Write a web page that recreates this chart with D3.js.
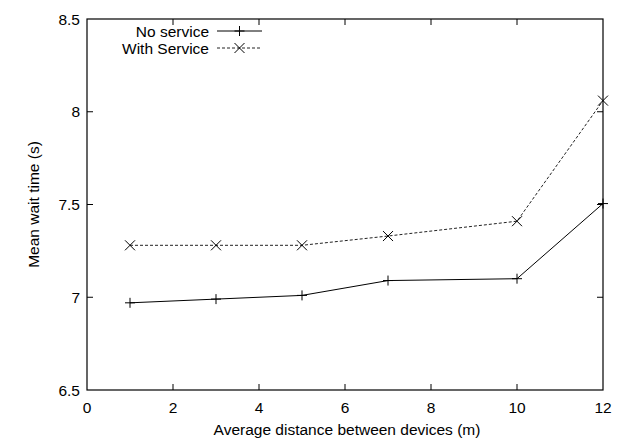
<!DOCTYPE html>
<html><head><meta charset="utf-8">
<script src="https://cdn.jsdelivr.net/npm/d3@7"></script>
<style>body{margin:0;background:#fff}svg{display:block}text{font-family:"Liberation Sans",Arial,sans-serif;fill:#000}</style>
</head><body>
<svg id="c" width="627" height="439"></svg>
<script>
const distances = [1, 3, 5, 7, 10, 12];
const noService = [6.97, 6.99, 7.01, 7.09, 7.10, 7.505];
const withService = [7.28, 7.28, 7.28, 7.33, 7.41, 8.06];
const xTicks = [0, 2, 4, 6, 8, 10, 12];
const yTicks = [6.5, 7, 7.5, 8, 8.5];
const seriesNames = ["No service", "With Service"];

const svg = d3.select("#c");
const L = 87, R = 603, T = 19, B = 390;
const x = d3.scaleLinear().domain([0, 12]).range([L, R]);
const y = d3.scaleLinear().domain([6.5, 8.5]).range([B, T]);
const fs = 15.5;

const g = svg.append("g").attr("stroke", "#000").attr("stroke-width", 1);
xTicks.forEach(t => {
  if (t === 0 || t === 12) return;
  g.append("line").attr("x1", x(t)).attr("x2", x(t)).attr("y1", B).attr("y2", B - 6);
  g.append("line").attr("x1", x(t)).attr("x2", x(t)).attr("y1", T).attr("y2", T + 6);
});
yTicks.forEach(t => {
  if (t === 6.5 || t === 8.5) return;
  g.append("line").attr("x1", L).attr("x2", L + 6).attr("y1", y(t)).attr("y2", y(t));
  g.append("line").attr("x1", R).attr("x2", R - 6).attr("y1", y(t)).attr("y2", y(t));
});
svg.append("rect").attr("x", L).attr("y", T).attr("width", R - L).attr("height", B - T)
  .attr("fill", "none").attr("stroke", "#000").attr("stroke-width", 1.2);

xTicks.forEach(t => svg.append("text").attr("x", x(t)).attr("y", B + 23)
  .attr("text-anchor", "middle").attr("font-size", fs).text(t));
yTicks.forEach(t => svg.append("text").attr("x", L - 7).attr("y", y(t) + 5.5)
  .attr("text-anchor", "end").attr("font-size", fs).text(t));

svg.append("text").attr("x", (L + R) / 2 + 2).attr("y", 435).attr("text-anchor", "middle")
  .attr("font-size", fs).text("Average distance between devices (m)");
svg.append("text").attr("transform", `translate(39,${(T + B) / 2}) rotate(-90)`)
  .attr("text-anchor", "middle").attr("font-size", fs).text("Mean wait time (s)");

const line = d3.line().x(d => x(d[0])).y(d => y(d[1]));
const d1 = distances.map((d, i) => [d, noService[i]]);
const d2 = distances.map((d, i) => [d, withService[i]]);

svg.append("path").attr("d", line(d1)).attr("fill", "none").attr("stroke", "#000").attr("stroke-width", 1);
svg.append("path").attr("d", line(d2)).attr("fill", "none").attr("stroke", "#222")
  .attr("stroke-width", 1).attr("stroke-dasharray", "3,2");

function plus(cx, cy, s) {
  svg.append("path").attr("d", `M${cx - s},${cy}H${cx + s}M${cx},${cy - s}V${cy + s}`)
    .attr("stroke", "#000").attr("stroke-width", 1).attr("fill", "none");
}
function cross(cx, cy, s) {
  svg.append("path").attr("d", `M${cx - s},${cy - s}L${cx + s},${cy + s}M${cx - s},${cy + s}L${cx + s},${cy - s}`)
    .attr("stroke", "#000").attr("stroke-width", 1).attr("fill", "none");
}
d1.forEach(d => plus(x(d[0]), y(d[1]), 5));
d2.forEach(d => cross(x(d[0]), y(d[1]), 5));

const ly1 = 31, ly2 = 48, lx0 = 217, lx1 = 262, tx = 209;
svg.append("text").attr("x", tx).attr("y", ly1 + 5.5).attr("text-anchor", "end").attr("font-size", fs).text(seriesNames[0]);
svg.append("text").attr("x", tx).attr("y", ly2 + 5.5).attr("text-anchor", "end").attr("font-size", fs).text(seriesNames[1]);
svg.append("line").attr("x1", lx0).attr("x2", lx1).attr("y1", ly1).attr("y2", ly1).attr("stroke", "#000");
svg.append("line").attr("x1", lx0).attr("x2", lx1).attr("y1", ly2).attr("y2", ly2).attr("stroke", "#222").attr("stroke-dasharray", "3,2");
plus((lx0 + lx1) / 2, ly1, 5);
cross((lx0 + lx1) / 2, ly2, 5);
</script>
</body></html>
